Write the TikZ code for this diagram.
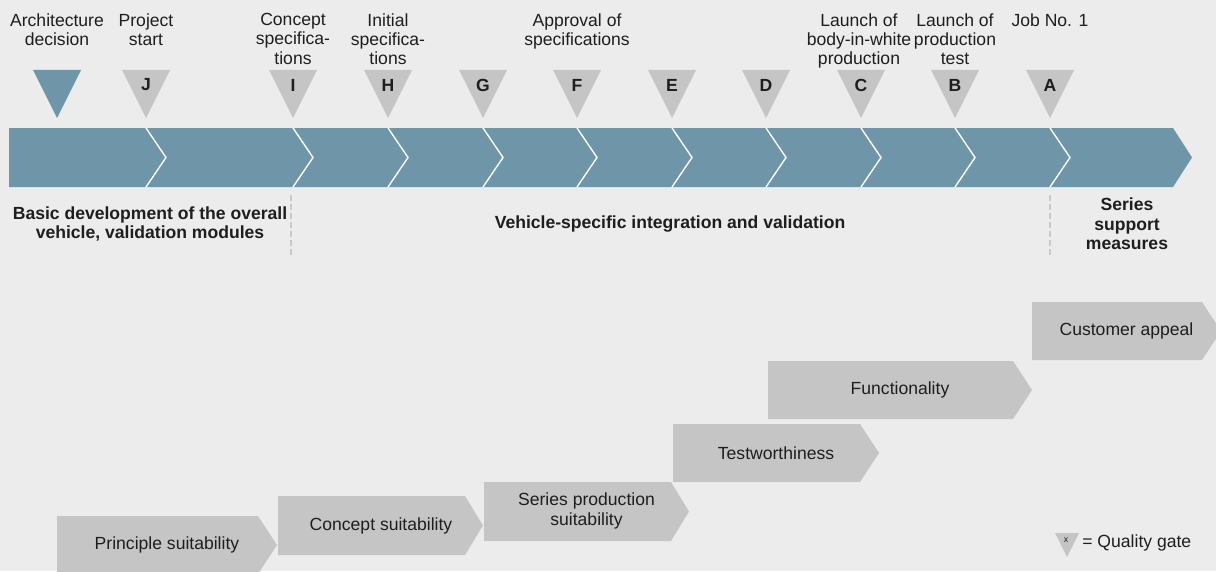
\documentclass[tikz,border=0pt]{standalone}
\usepackage{fontspec}
\setmainfont{Liberation Sans}
\definecolor{bggray}{HTML}{ECECEC}
\definecolor{bandblue}{HTML}{6E95A8}
\definecolor{gategray}{HTML}{C4C5C4}
\definecolor{dashgray}{HTML}{C9C9C9}
\definecolor{ink}{HTML}{1E1E1E}
\begin{document}
\begin{tikzpicture}[x=0.02cm, y=-0.02cm,
    gate/.style={fill=gategray},
    letter/.style={inner sep=0pt, text=ink, font=\bfseries\fontsize{10}{12}\selectfont},
    milestone/.style={anchor=north, align=center, inner sep=0pt, text=ink,
      font=\fontsize{10}{11}\selectfont},
    phase/.style={align=center, inner sep=0pt, text=ink,
      font=\bfseries\fontsize{10}{11}\selectfont},
    stagetext/.style={align=center, inner sep=0pt, text=ink,
      font=\fontsize{10}{11}\selectfont},
    divider/.style={draw=dashgray, line width=1pt, dash pattern=on 3.4pt off 1.7pt}]
  \fill[bggray] (0, 0) rectangle (1216, 571);
  \useasboundingbox (0, 0) rectangle (1216, 571);

  % main process band with chevron joints
  \fill[bandblue] (9, 128) -- (1173, 128) -- (1192, 157.5) -- (1173, 187)
    -- (9, 187) -- cycle;
  \foreach \x in {146, 293, 388, 483, 577, 672, 766, 861, 955, 1050}
    \draw[white, line width=0.8pt] (\x, 128) -- (\x + 20, 157.5) -- (\x, 187);

  % quality gates
  \fill[bandblue] (33, 70) -- (81, 70) -- (57, 118) -- cycle;
  \foreach \x/\l in {146/J, 293/I, 388/H, 483/G, 577/F, 672/E, 766/D,
      861/C, 955/B, 1050/A} {
    \fill[gate] (\x - 24, 70) -- (\x + 24, 70) -- (\x, 118) -- cycle;
    \node[letter] (gate\l) at (\x, 85) {\l};
  }

  % milestones
  \node[milestone] (archdecision) at (57, 13) {Architecture\\decision};
  \node[milestone] (projstart) at (146, 13) {Project\\start};
  \node[milestone] (conceptspec) at (293, 13) {Concept\\specifica-\\tions};
  \node[milestone] (initialspec) at (388, 13) {Initial\\specifica-\\tions};
  \node[milestone] (approvalspec) at (577, 13) {Approval of\\specifications};
  \node[milestone] (biwlaunch) at (859, 13) {Launch of\\body-in-white\\production};
  \node[milestone] (testlaunch) at (955, 13) {Launch of\\production\\test};
  \node[milestone] (jobone) at (1050, 13) {Job No. 1};

  % phases
  \draw[divider] (291, 195) -- (291, 255);
  \draw[divider] (1050, 195) -- (1050, 255);
  \node[phase] (basicdev) at (150, 224)
    {Basic development of the overall\\vehicle, validation modules};
  \node[phase] (integration) at (670, 224)
    {Vehicle-specific integration and validation};
  \node[phase] (seriessupport) at (1127, 224) {Series\\support\\measures};

  % maturity stages
  \fill[gategray] (57, 516) -- (258, 516) -- (277, 545) -- (258, 574)
    -- (57, 574) -- cycle;
  \node[stagetext] (principle) at (167, 545) {Principle suitability};
  \fill[gategray] (278, 496) -- (465, 496) -- (483, 525.5) -- (465, 555)
    -- (278, 555) -- cycle;
  \node[stagetext] (concept) at (381, 525.5) {Concept suitability};
  \fill[gategray] (484, 482) -- (671, 482) -- (689, 511.5) -- (671, 541)
    -- (484, 541) -- cycle;
  \node[stagetext] (seriesprod) at (586.5, 511) {Series production\\suitability};
  \fill[gategray] (673, 424) -- (860, 424) -- (879, 453) -- (860, 482)
    -- (673, 482) -- cycle;
  \node[stagetext] (testworth) at (776, 453) {Testworthiness};
  \fill[gategray] (768, 361) -- (1013, 361) -- (1032, 390) -- (1013, 419)
    -- (768, 419) -- cycle;
  \node[stagetext] (function) at (900, 390) {Functionality};
  \fill[gategray] (1032, 302) -- (1202, 302) -- (1221, 331) -- (1202, 360)
    -- (1032, 360) -- cycle;
  \node[stagetext] (appeal) at (1126.5, 331) {Customer appeal};

  % legend
  \fill[gate] (1055, 533) -- (1079, 533) -- (1067, 557) -- cycle;
  \node[inner sep=0pt, text=ink, font=\fontsize{5}{6}\selectfont] (legendx)
    at (1066, 540) {x};
  \node[anchor=west, inner sep=0pt, text=ink, font=\fontsize{10}{11}\selectfont]
    (legendtext) at (1082, 543) {= Quality gate};
\end{tikzpicture}
\end{document}
